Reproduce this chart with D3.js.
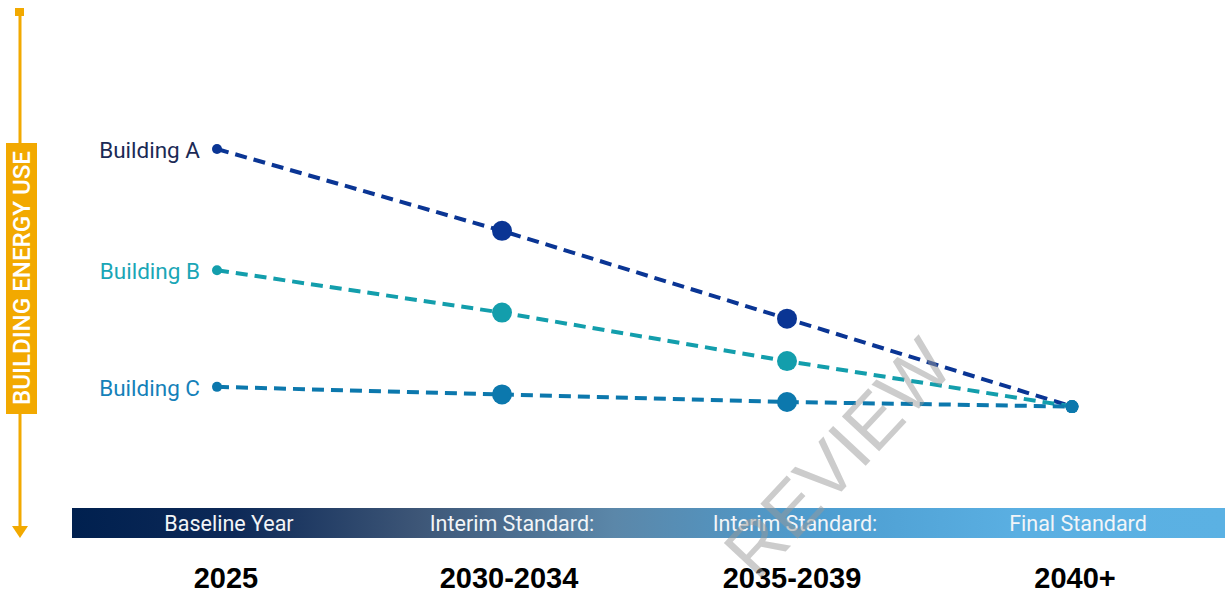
<!DOCTYPE html>
<html>
<head>
<meta charset="utf-8">
<script src="https://cdn.jsdelivr.net/npm/d3@7"></script>
<style>
  body { margin: 0; background: #fff; }
  svg { display: block; }
</style>
</head>
<body>
<div id="chart"></div>
<script>
const WIDTH = 1225;
const HEIGHT = 593;

// periods along the timeline
const periods = ["2025", "2030-2034", "2035-2039", "2040+"];
const phaseLabels = ["Baseline Year", "Interim Standard:", "Interim Standard:", "Final Standard"];

// relative building energy use
const buildings = ["Building A", "Building B", "Building C"];
const buildingA = [100, 73, 44, 15];
const buildingB = [60, 46, 30, 15];
const buildingC = [21.5, 19, 16.5, 15];
const seriesValues = [buildingA, buildingB, buildingC];

const lineColors = ["#0a3594", "#139eac", "#0c78ad"];
const labelColors = ["#1b2a55", "#1aa6b6", "#1581b9"];

const svg = d3.select("#chart")
    .append("svg")
    .attr("width", WIDTH)
    .attr("height", HEIGHT);

// marker positions and label positions use slightly different spans
const x = d3.scalePoint()
    .domain(periods)
    .range([217, 1072]);

const xLabel = d3.scalePoint()
    .domain(periods)
    .range([226, 1075]);

const y = d3.scaleLinear()
    .domain([0, 100])
    .range([452, 149]);

// gradient for the phase bar
const defs = svg.append("defs");
const grad = defs.append("linearGradient")
    .attr("id", "barGrad")
    .attr("x1", "0%").attr("x2", "100%")
    .attr("y1", "0%").attr("y2", "0%");
[
    [0, "#00204f"], [0.14, "#0d2957"], [0.3, "#3d5677"],
    [0.47, "#5b87a9"], [0.65, "#4d9dd0"], [0.82, "#5aafe2"], [1, "#5bb1e3"]
].forEach(s => grad.append("stop").attr("offset", s[0]).attr("stop-color", s[1]));

// vertical axis arrow
const orange = "#f2a900";
svg.append("line")
    .attr("x1", 20).attr("x2", 20)
    .attr("y1", 12).attr("y2", 528)
    .attr("stroke", orange)
    .attr("stroke-width", 3);
svg.append("rect")
    .attr("x", 15).attr("y", 8)
    .attr("width", 9).attr("height", 8)
    .attr("fill", orange);
svg.append("path")
    .attr("d", "M12,526 L28,526 L20,538 Z")
    .attr("fill", orange);
svg.append("rect")
    .attr("x", 6).attr("y", 143)
    .attr("width", 31).attr("height", 271)
    .attr("fill", orange);
svg.append("text")
    .attr("transform", "translate(22,278) rotate(-90)")
    .attr("text-anchor", "middle")
    .attr("dominant-baseline", "central")
    .attr("font-family", "Roboto, 'Liberation Sans', sans-serif")
    .attr("font-weight", 500)
    .attr("font-size", 23)
    .attr("textLength", 254)
    .attr("lengthAdjust", "spacingAndGlyphs")
    .attr("fill", "#fff")
    .text("BUILDING ENERGY USE");

// phase bar
svg.append("rect")
    .attr("x", 72).attr("y", 508)
    .attr("width", WIDTH - 72).attr("height", 30)
    .attr("fill", "url(#barGrad)");

svg.selectAll(".phase")
    .data(periods)
    .enter().append("text")
    .attr("class", "phase")
    .attr("x", d => xLabel(d) + 3)
    .attr("y", 531)
    .attr("text-anchor", "middle")
    .attr("font-family", "Roboto, 'Liberation Sans', sans-serif")
    .attr("font-size", 21.5)
    .attr("fill", "#f2f5f8")
    .text((d, i) => phaseLabels[i]);

svg.selectAll(".year")
    .data(periods)
    .enter().append("text")
    .attr("class", "year")
    .attr("x", d => xLabel(d))
    .attr("y", 588)
    .attr("text-anchor", "middle")
    .attr("font-family", "'Liberation Sans', Arial, sans-serif")
    .attr("font-weight", "bold")
    .attr("font-size", 29)
    .attr("fill", "#000")
    .text(d => d);

// dashed lines
const line = d3.line()
    .x((d, i) => x(periods[i]))
    .y(d => y(d));

svg.selectAll(".bline")
    .data(seriesValues)
    .enter().append("path")
    .attr("class", "bline")
    .attr("d", d => line(d))
    .attr("fill", "none")
    .attr("stroke", (d, i) => lineColors[i])
    .attr("stroke-width", 4)
    .attr("stroke-dasharray", "12,7");

// markers
seriesValues.forEach((vals, s) => {
    svg.selectAll(".dot" + s)
        .data(vals)
        .enter().append("circle")
        .attr("cx", (d, i) => x(periods[i]))
        .attr("cy", d => y(d))
        .attr("r", (d, i) => i === 0 ? 5 : (i === vals.length - 1 ? 6.5 : 10))
        .attr("fill", lineColors[s]);
});

// building labels
svg.selectAll(".blabel")
    .data(buildings)
    .enter().append("text")
    .attr("class", "blabel")
    .attr("x", x(periods[0]) - 17)
    .attr("y", (d, i) => y(seriesValues[i][0]) + 1)
    .attr("text-anchor", "end")
    .attr("dominant-baseline", "central")
    .attr("font-family", "Roboto, 'Liberation Sans', sans-serif")
    .attr("font-size", 22.5)
    .attr("fill", (d, i) => labelColors[i])
    .text(d => d);

// watermark
svg.append("text")
    .attr("transform", "translate(838,458) rotate(-47)")
    .attr("text-anchor", "middle")
    .attr("dominant-baseline", "central")
    .attr("font-family", "'Liberation Sans', Arial, sans-serif")
    .attr("font-size", 74)
    .attr("fill", "#9a9a9a")
    .attr("opacity", 0.5)
    .text("REVIEW");
</script>
</body>
</html>
